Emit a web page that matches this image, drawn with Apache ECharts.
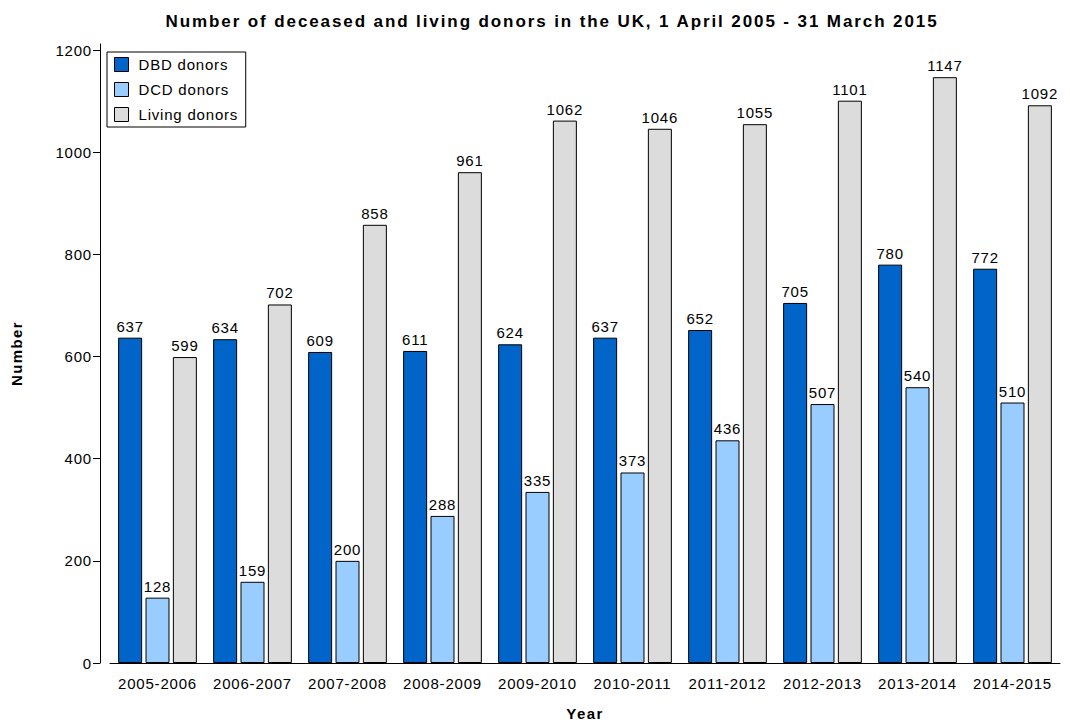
<!DOCTYPE html>
<html>
<head>
<meta charset="utf-8">
<script src="https://cdn.jsdelivr.net/npm/echarts@6/dist/echarts.min.js"></script>
<style>
  html, body { margin: 0; padding: 0; background: #ffffff; }
  #chart { width: 1070px; height: 727px; }
  /* slightly open tracking for all chart text */
  #chart svg text { letter-spacing: 0.8px; }
  #chart svg text[style*="bold"][style*="15px"] { letter-spacing: 1.4px; }
  #chart svg text[style*="bold"][style*="17px"] { letter-spacing: 1.9px; }
</style>
</head>
<body>
<div id="chart"></div>
<script>
// Financial years, 1 April - 31 March
const years = ['2005-2006', '2006-2007', '2007-2008', '2008-2009', '2009-2010',
               '2010-2011', '2011-2012', '2012-2013', '2013-2014', '2014-2015'];

// Donors after brain-stem death
const dbdDonors = [637, 634, 609, 611, 624, 637, 652, 705, 780, 772];
// Donors after circulatory death
const dcdDonors = [128, 159, 200, 288, 335, 373, 436, 507, 540, 510];
// Living donors
const livingDonors = [599, 702, 858, 961, 1062, 1046, 1055, 1101, 1147, 1092];

const yTicks = [0, 200, 400, 600, 800, 1000, 1200];

const FONT = '"Liberation Sans", Arial, Helvetica, sans-serif';

const chart = echarts.init(document.getElementById('chart'), null, { renderer: 'svg' });

function barSeries(name, data, color) {
  return {
    name: name,
    type: 'bar',
    data: data,
    barWidth: 24,
    barGap: '14%',
    itemStyle: { color: color, borderColor: '#000000', borderWidth: 1 },
    label: {
      show: true,
      position: 'top',
      distance: 4,
      color: '#000000',
      fontFamily: FONT,
      fontSize: 15
    }
  };
}

chart.setOption({
  animation: false,
  backgroundColor: '#ffffff',
  title: {
    text: 'Number of deceased and living donors in the UK, 1 April 2005 - 31 March 2015',
    left: 547,
    top: 8,
    textAlign: 'center',
    textStyle: { fontFamily: FONT, fontSize: 17, fontWeight: 'bold', color: '#000000' }
  },
  legend: {
    orient: 'vertical',
    left: 107,
    top: 52,
    padding: [5, 18, 5, 7],
    itemWidth: 14,
    itemHeight: 14,
    itemGap: 10,
    icon: 'rect',
    backgroundColor: '#ffffff',
    borderColor: '#000000',
    borderWidth: 1,
    textStyle: { fontFamily: FONT, fontSize: 15, color: '#000000', padding: [0, 0, 0, 5] },
    itemStyle: { borderColor: '#000000', borderWidth: 1 }
  },
  grid: { left: 110, right: 10, top: 44, bottom: 64, containLabel: false },
  xAxis: {
    type: 'category',
    data: years,
    name: 'Year',
    nameLocation: 'middle',
    nameGap: 43,
    nameTextStyle: { fontFamily: FONT, fontSize: 15, fontWeight: 'bold', color: '#000000' },
    axisLine: { lineStyle: { color: '#000000', width: 1 } },
    axisTick: { show: false },
    axisLabel: { margin: 13, fontFamily: FONT, fontSize: 15, color: '#000000' }
  },
  yAxis: {
    type: 'value',
    min: 0,
    max: 1212,
    offset: 10,
    name: 'Number',
    nameLocation: 'middle',
    nameGap: 76,
    nameTextStyle: { fontFamily: FONT, fontSize: 15, fontWeight: 'bold', color: '#000000' },
    splitLine: { show: false },
    axisLine: { show: true, onZero: false, lineStyle: { color: '#000000', width: 1 } },
    axisTick: { show: true, length: 7, customValues: yTicks, lineStyle: { color: '#000000' } },
    axisLabel: {
      margin: 8,
      customValues: yTicks,
      formatter: function (v) { return String(v); },
      fontFamily: FONT,
      fontSize: 15,
      color: '#000000'
    }
  },
  series: [
    barSeries('DBD donors', dbdDonors, '#0064c8'),
    barSeries('DCD donors', dcdDonors, '#99ccff'),
    barSeries('Living donors', livingDonors, '#dcdcdc')
  ]
});
</script>
</body>
</html>
